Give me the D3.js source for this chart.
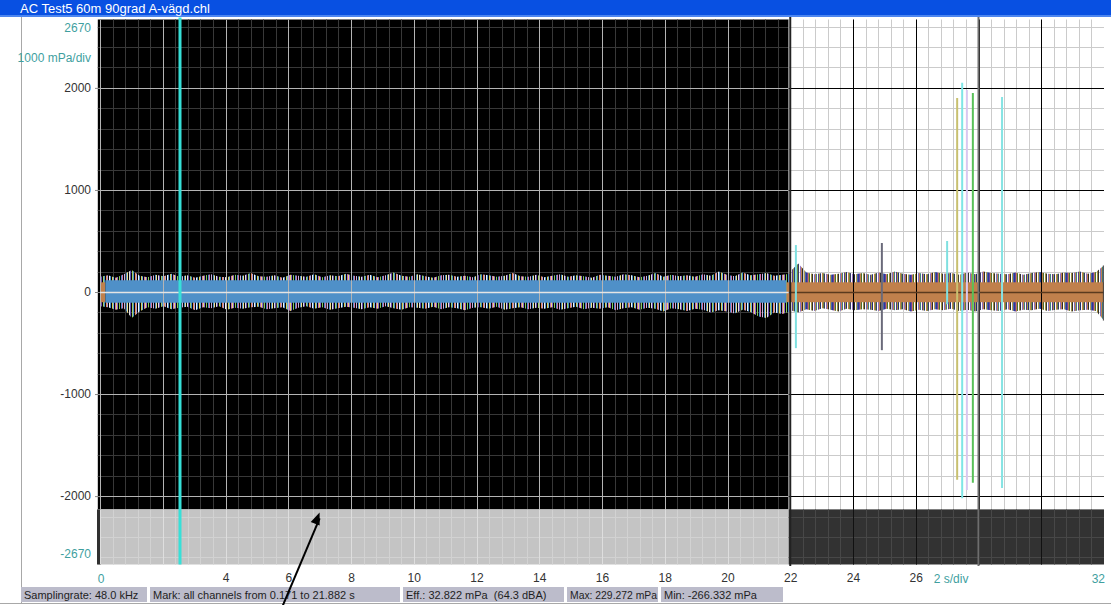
<!DOCTYPE html>
<html>
<head>
<meta charset="utf-8">
<script src="https://cdn.jsdelivr.net/npm/d3@7"></script>
<style>
  body { margin: 0; background: #fff; overflow: hidden; }
  svg { display: block; font-family: "Liberation Sans", Arial, sans-serif; }
  .pre { white-space: pre; }
</style>
</head>
<body>
<svg id="chart" width="1111" height="605"></svg>
<script>
// ---- data ----
var title = "AC Test5 60m 90grad A-vägd.chl";
var xDomain = [0, 32];               // seconds
var yDomain = [-2670, 2670];         // mPa
var xTicks = [4, 6, 8, 10, 12, 14, 16, 18, 20, 22, 24, 26];
var yTicks = [2000, 1000, 0, -1000, -2000];
var markSpan = [0.171, 21.882];      // marked part (black view)
var cursorT = 2.55;
var cursor2T = 28;
var coreMarked = [-105, 115];        // solid band inside mark
var coreRest = [-100, 95];           // solid band outside mark

// noise envelope, 0..22 s
var upperL = [150,165,140,175,215,160,145,170,155,180,150,
              165,140,160,175,150,145,170,160,185,155,150,
              165,140,170,160,150,175,145,165,155,180,160,
              150,170,145,165,190,160,150,175,155,140,165,
              170,150,160,145,175,165,150,160,185,155,150,
              170,145,160,175,150,165,155,140,170,160,150,
              175,165,145,160,185,150,170,155,165,150,175,
              160,200,170,155,190,165,175,185,160,170,180];
var lowerL = [-140,-150,-175,-160,-255,-190,-150,-165,-140,-170,-155,
              -145,-180,-150,-160,-140,-175,-155,-165,-150,-145,-170,
              -160,-150,-185,-155,-140,-165,-150,-175,-160,-145,-155,
              -170,-150,-165,-140,-160,-175,-150,-155,-165,-145,-170,
              -150,-160,-180,-155,-150,-165,-145,-175,-160,-150,-170,
              -155,-165,-150,-175,-160,-145,-170,-155,-165,-150,-180,
              -160,-150,-175,-155,-165,-190,-160,-170,-185,-165,-175,
              -200,-180,-190,-210,-175,-195,-240,-255,-200,-215,-190];
// noise envelope, 22..32 s
var upperR = [200,280,190,175,185,170,180,195,175,185,
              170,190,175,200,180,170,185,175,195,180,
              185,170,190,175,200,185,180,175,190,170,
              185,195,180,175,190,185,200,180,195,260];
var lowerR = [-180,-200,-170,-185,-160,-175,-190,-165,-180,-170,
              -175,-185,-165,-180,-170,-190,-175,-185,-170,-180,
              -165,-185,-175,-190,-170,-180,-185,-170,-190,-175,
              -180,-165,-185,-175,-170,-190,-180,-175,-185,-280];

// single spikes [t, max, min]
var spikes = [[22.18, 460, -550], [24.92, 480, -570], [27.0, 500, -120],
              [27.32, 1900, -1840], [27.48, 2050, -2020], [27.63, 1980, -1940],
              [27.82, 1950, -1870], [28.75, 1910, -1920], [31.98, 260, -280]];
var spikeColors = ["#7fe0e0", "#6a6a7a", "#7fe0e0", "#c8c070", "#7ee6e6",
                   "#d8c8f0", "#58c058", "#86e4e4", "#404040"];

var statusTexts = ["Samplingrate: 48.0 kHz", "Mark: all channels from 0.171 to 21.882 s",
                   "Eff.: 32.822 mPa  (64.3 dBA)", "Max: 229.272 mPa", "Min: -266.332 mPa"];
var statusEdges = [21, 150, 403, 567, 661, 786];

// ---- drawing ----
var svg = d3.select("#chart");
var x = d3.scaleLinear().domain(xDomain).range([100, 1104]);
var y = d3.scaleLinear().domain(yDomain).range([564.5, 19.5]);
var teal = "#3f9f9f";
var lowCut = -2130;   // bottom strip of the view
var blackStart = -0.07, blackEnd = 21.95;

// frame
svg.append("rect").attr("x", 0).attr("y", 0).attr("width", 1111).attr("height", 16).attr("fill", "#0850e2");
svg.append("rect").attr("x", 0).attr("y", 15).attr("width", 1111).attr("height", 2).attr("fill", "#4d86ef");
svg.append("text").attr("x", 20).attr("y", 12.5).attr("fill", "#fff").attr("font-size", 13).text(title);
svg.append("line").attr("x1", 21.5).attr("x2", 21.5).attr("y1", 17).attr("y2", 603).attr("stroke", "#a8a8a8");
svg.append("line").attr("x1", 0).attr("x2", 1111).attr("y1", 603.5).attr("y2", 603.5).attr("stroke", "#a8a8a8");

var regions = [
  {t: [blackStart, blackEnd], v: [lowCut, yDomain[1]], bg: "#000", minor: "#383838", major: "#b4b4b4"},
  {t: [blackEnd, xDomain[1]], v: [lowCut, yDomain[1]], bg: "#fff", minor: "#cbcbcb", major: "#000"},
  {t: [blackStart, blackEnd], v: [yDomain[0], lowCut], bg: "#c4c4c4", minor: "#d2d2d2", major: "#dedede"},
  {t: [blackEnd, xDomain[1]], v: [yDomain[0], lowCut], bg: "#323232", minor: "#474747", major: "#111"}
];
var defs = svg.append("defs");
regions.forEach(function(r, i) {
  defs.append("clipPath").attr("id", "clip" + i).append("rect")
    .attr("x", x(r.t[0])).attr("y", y(r.v[1]))
    .attr("width", x(r.t[1]) - x(r.t[0])).attr("height", y(r.v[0]) - y(r.v[1]));
});

var minorX = d3.range(0, 32.01, 0.4), minorY = d3.range(-2600, 2601, 200);
var majorX = d3.range(0, 32.01, 2), majorY = yTicks;

function drawGrid(r, i, xs, ys, color, w) {
  var g = svg.append("g").attr("clip-path", "url(#clip" + i + ")");
  g.selectAll(".v").data(xs).enter().append("line")
    .attr("x1", function(d) { return Math.round(x(d)) + 0.5; })
    .attr("x2", function(d) { return Math.round(x(d)) + 0.5; })
    .attr("y1", 17).attr("y2", 566).attr("stroke", color).attr("stroke-width", w);
  g.selectAll(".h").data(ys).enter().append("line")
    .attr("y1", function(d) { return Math.round(y(d)) + 0.5; })
    .attr("y2", function(d) { return Math.round(y(d)) + 0.5; })
    .attr("x1", 95).attr("x2", 1108).attr("stroke", color).attr("stroke-width", w);
}

regions.forEach(function(r, i) {
  svg.append("rect").attr("x", x(r.t[0])).attr("y", y(r.v[1]))
    .attr("width", x(r.t[1]) - x(r.t[0])).attr("height", y(r.v[0]) - y(r.v[1]))
    .attr("fill", r.bg);
  drawGrid(r, i, minorX, minorY, r.minor, 1);
});
svg.append("rect").attr("x", x(0) - 3).attr("y", y(lowCut))
  .attr("width", 4).attr("height", y(yDomain[0]) - y(lowCut)).attr("fill", "#303030");

// noise textures
function stripes(id, cols) {
  var p = defs.append("pattern").attr("id", id).attr("patternUnits", "userSpaceOnUse")
    .attr("width", cols.length).attr("height", 3);
  cols.forEach(function(c, k) {
    if (c) p.append("rect").attr("x", k).attr("y", 0).attr("width", 1).attr("height", 3).attr("fill", c);
  });
}
stripes("noiseDark", ["#e8d870", "#8f70d0", null, "#80c860", null, "#4f90c8", "#d878a8",
                      null, "#c8b0e0", null, "#4f90c8", "#f0e090", null, "#e0e0e0", "#6a50b0",
                      null, "#a0d070", "#4f90c8", null, "#e89060", "#b0a0e0", null, "#f4f4f4",
                      "#4f90c8", null, "#d8d060", "#70b0e0", null, "#c070c0"]);
stripes("noiseLight", ["#283c90", "#7040a0", "#c0804c", "#487030", null, "#a09040", "#303030",
                       null, "#8070c0", "#c0804c", "#408080", null, "#5a3a8a", "#a0a040",
                       "#223070", null, "#c0804c", "#6a8a40", "#3a3a6a", null, "#9070c0",
                       "#c0804c", "#2a2a2a", null, "#b0a050", "#4a60b0"]);

function envelope(up, lo, t0, t1) {
  var n = up.length;
  var pts = up.map(function(v, i) { return {t: t0 + (t1 - t0) * i / (n - 1), hi: v, lo: lo[i]}; });
  return d3.area().x(function(d) { return x(d.t); })
    .y0(function(d) { return y(d.lo); }).y1(function(d) { return y(d.hi); })(pts);
}
svg.append("path").attr("d", envelope(upperL, lowerL, 0, 22)).attr("fill", "url(#noiseDark)");
svg.append("path").attr("d", envelope(upperR, lowerR, 22, 32)).attr("fill", "url(#noiseLight)");

function core(t0, t1, band, color) {
  svg.append("rect").attr("x", x(t0)).attr("y", y(band[1]))
    .attr("width", x(t1) - x(t0)).attr("height", y(band[0]) - y(band[1])).attr("fill", color);
}
core(0, markSpan[0], coreRest, "#c0804c");
core(markSpan[0], markSpan[1], coreMarked, "#4f90c8");
core(markSpan[1], 32, coreRest, "#c0804c");

// major grid on top
regions.forEach(function(r, i) { drawGrid(r, i, majorX, majorY, r.major, 1); });
svg.append("line").attr("x1", x(blackEnd)).attr("x2", x(32)).attr("y1", y(0) + 0.5).attr("y2", y(0) + 0.5)
  .attr("stroke", "#5a3a1e").attr("stroke-width", 1.5);
svg.append("line").attr("x1", x(0)).attr("x2", x(blackEnd)).attr("y1", y(0) + 0.5).attr("y2", y(0) + 0.5)
  .attr("stroke", "#e4e4e4").attr("stroke-width", 1.5);
svg.append("line").attr("x1", x(22)).attr("x2", x(22)).attr("y1", 17).attr("y2", 566)
  .attr("stroke", "#222").attr("stroke-width", 2);

// spikes
svg.selectAll(".spike").data(spikes).enter().append("line")
  .attr("x1", function(d) { return x(d[0]); }).attr("x2", function(d) { return x(d[0]); })
  .attr("y1", function(d) { return y(d[1]); }).attr("y2", function(d) { return y(d[2]); })
  .attr("stroke", function(d, i) { return spikeColors[i]; })
  .attr("stroke-width", function(d, i) { return spikeColors[i] === "#404040" ? 1 : 2; });

// cursors
svg.append("line").attr("x1", x(cursor2T)).attr("x2", x(cursor2T)).attr("y1", 17).attr("y2", 566)
  .attr("stroke", "#6e6e6e").attr("stroke-width", 2);
svg.append("line").attr("x1", x(cursorT)).attr("x2", x(cursorT)).attr("y1", y(yDomain[1]) - 2).attr("y2", y(yDomain[0]))
  .attr("stroke", "#36e0d8").attr("stroke-width", 3);

// axes
var yAxis = svg.append("g").attr("transform", "translate(100,0)")
  .call(d3.axisLeft(y).tickValues(yTicks).tickSize(5).tickPadding(4).tickFormat(String));
yAxis.select(".domain").remove();
yAxis.selectAll("text").attr("font-size", 12).attr("fill", "#333").attr("font-family", null);
yAxis.selectAll("line").attr("stroke", "#888");

var xAxis = svg.append("g").attr("transform", "translate(0," + y(yDomain[0]) + ")")
  .call(d3.axisBottom(x).tickValues(xTicks).tickSize(0).tickPadding(9).tickFormat(String));
xAxis.select(".domain").remove();
xAxis.selectAll("text").attr("font-size", 12).attr("fill", "#333").attr("font-family", null);

function tealText(px, py, anchor, s) {
  svg.append("text").attr("x", px).attr("y", py).attr("text-anchor", anchor)
    .attr("font-size", 12).attr("fill", teal).text(s);
}
tealText(91, y(yDomain[1]) + 12, "end", String(yDomain[1]));
tealText(91, y(2290) + 4, "end", "1000 mPa/div");
tealText(91, y(yDomain[0]) - 7, "end", String(yDomain[0]));
tealText(x(0) + 1, y(yDomain[0]) + 18, "middle", "0");
tealText(x(32) + 1, y(yDomain[0]) + 18, "end", "32");
tealText(x(26) + 18, y(yDomain[0]) + 18, "start", "2 s/div");

// status bar
statusTexts.forEach(function(s, i) {
  var w = statusEdges[i + 1] - statusEdges[i] - 3;
  svg.append("rect").attr("x", statusEdges[i]).attr("y", 587)
    .attr("width", w).attr("height", 15).attr("fill", "#bcbccb");
  var t = svg.append("text").attr("class", "pre").attr("x", statusEdges[i] + 3).attr("y", 598.5)
    .attr("font-size", 11).attr("fill", "#1e1e1e").text(s);
  var len = t.node().getComputedTextLength();
  if (len > w - 4) t.attr("textLength", w - 4).attr("lengthAdjust", "spacingAndGlyphs");
});

// annotation arrow
var tip = [x(7.0), y(-2160)], tail = [x(5.82), 606];
svg.append("line").attr("x1", tail[0]).attr("y1", tail[1]).attr("x2", tip[0]).attr("y2", tip[1] + 6)
  .attr("stroke", "#000").attr("stroke-width", 2);
var ang = Math.atan2(tip[1] - tail[1], tip[0] - tail[0]);
var hl = 13, hw = 0.38;
svg.append("path").attr("d", "M" + tip[0] + "," + tip[1] +
  "L" + (tip[0] - hl * Math.cos(ang - hw)) + "," + (tip[1] - hl * Math.sin(ang - hw)) +
  "L" + (tip[0] - hl * Math.cos(ang + hw)) + "," + (tip[1] - hl * Math.sin(ang + hw)) + "Z")
  .attr("fill", "#000");
</script>
</body>
</html>
